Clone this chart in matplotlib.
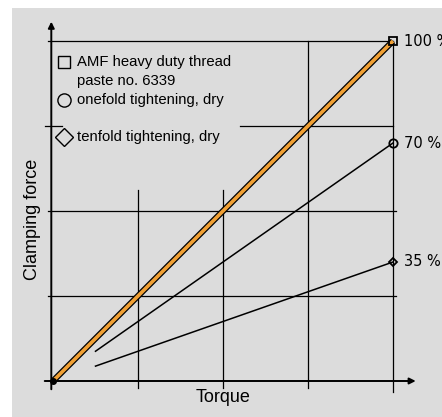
import matplotlib
matplotlib.use("Agg")
import matplotlib.pyplot as plt
import matplotlib.patheffects as pe
from matplotlib.patches import Rectangle

# clamping force in % of the paste value, over torque (grid units 0..4)
torque_paste = [0, 4]
force_paste = [0, 4]
torque_dry = [0.5, 4]
force_onefold = [0.35, 2.8]
force_tenfold = [0.175, 1.4]
end_labels = ["100 %", "70 %", "35 %"]
legend_lines = ["AMF heavy duty thread", "paste no. 6339",
                "onefold tightening, dry", "tenfold tightening, dry"]

fig = plt.figure(figsize=(4.42, 4.17), dpi=100)
fig.patch.set_facecolor("white")
fig.patches.append(Rectangle((12/442, 0), 430/442, 409/417, transform=fig.transFigure,
                             facecolor="#dcdcdc", edgecolor="none", zorder=-10))
ax = fig.add_axes([0, 0, 1, 1])
ax.set_xlim(-53/85, 389/85)
ax.set_ylim(-36/85, 381/85)
ax.axis("off")
ax.patch.set_alpha(0)

k = dict(color="black", lw=0.9, zorder=2)
# grid pieces, as in the drawing
ax.plot([-0.06, 4], [4, 4], **k)
ax.plot([2.2, 4], [3, 3], **k)
ax.plot([-0.1, 0.1], [3, 3], **k)
ax.plot([-0.06, 4.03], [2, 2], **k)
ax.plot([-0.06, 4.03], [1, 1], **k)
ax.plot([1, 1], [-0.08, 2.25], **k)
ax.plot([2, 2], [-0.08, 2.25], **k)
ax.plot([3, 3], [-0.08, 4], **k)
ax.plot([4, 4], [-0.13, 4], **k)

# axes with arrows
ax.annotate("", xy=(-0.02, 4.26), xytext=(-0.02, -0.13),
            arrowprops=dict(arrowstyle="-|>", lw=1.4, color="black", mutation_scale=9))
ax.annotate("", xy=(4.3, 0), xytext=(-0.13, 0),
            arrowprops=dict(arrowstyle="-|>", lw=1.4, color="black", mutation_scale=9))
ax.plot(0, 0, "o", color="black", ms=4, zorder=5)

# curves
ax.plot(torque_paste, force_paste, color="#f0a035", lw=2.6, solid_capstyle="butt", zorder=4,
        path_effects=[pe.Stroke(linewidth=4.4, foreground="black"), pe.Normal()])
ax.plot(torque_dry, force_onefold, color="black", lw=1.1, zorder=3)
ax.plot(torque_dry, force_tenfold, color="black", lw=1.1, zorder=3)

mk = dict(color="black", mfc="none", mew=1.3, zorder=6)
ax.plot(torque_paste[-1], force_paste[-1], "s", ms=6, **mk)
ax.plot(torque_dry[-1], force_onefold[-1], "o", ms=6, **mk)
ax.plot(torque_dry[-1], force_tenfold[-1], "D", ms=4.2, **mk)

ends = [force_paste[-1], force_onefold[-1], force_tenfold[-1]]
for y, t in zip(ends, end_labels):
    ax.text(4.13, y, t, fontsize=10.5, family="DejaVu Sans", va="center", ha="left")

# legend box drawn as text
lf = dict(fontsize=10.7, family="Liberation Sans", va="center", ha="left")
ax.text(0.28, 3.75, legend_lines[0], **lf)
ax.text(0.28, 3.53, legend_lines[1], **lf)
ax.text(0.28, 3.31, legend_lines[2], **lf)
ax.text(0.28, 2.87, legend_lines[3], **lf)
lm = dict(color="black", mfc="none", mew=1.0)
ax.plot(0.13, 3.75, "s", ms=9, **lm)
ax.plot(0.13, 3.31, "o", ms=9.5, **lm)
ax.plot(0.13, 2.87, "D", ms=9, **lm)

ax.text(2, -0.2, "Torque", fontsize=13, family="Liberation Sans", ha="center", va="center")
ax.text(-0.24, 1.9, "Clamping force", fontsize=13, family="Liberation Sans",
        ha="center", va="center", rotation=90)

fig.savefig("out.png", dpi=100)
